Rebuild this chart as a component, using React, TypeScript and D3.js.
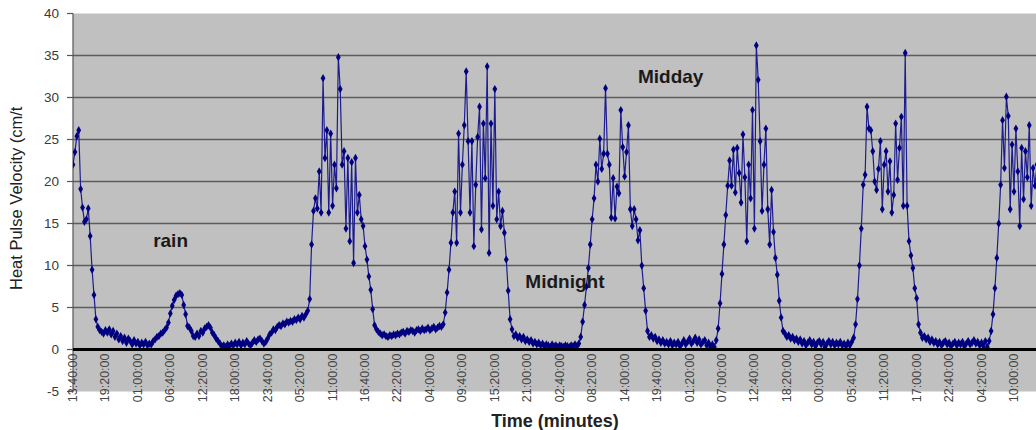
import React from "react";
import * as d3 from "d3";

// readings every 20 minutes, starting 13:40
const startPeak = [22.0, 23.5, 25.4, 26.1, 19.1, 16.9, 15.2, 15.5, 16.8, 13.5, 9.5, 6.5, 3.6, 2.7, 2.3, 2.1, 1.9];
const night1 = [2.3, 2.0, 2.4, 1.8, 2.2, 1.5, 1.9, 1.2, 1.6, 1.0, 1.4, 0.8, 1.3, 1.0, 0.6, 1.1, 0.7, 0.9, 0.5, 0.8, 0.6, 0.9, 0.5, 0.7, 0.6, 1.0, 1.2, 1.5, 1.6, 1.9, 2.0, 2.3, 2.6];
const rainEvent = [3.2, 4.3, 5.2, 5.9, 6.4, 6.6, 6.7, 6.5, 5.3, 4.2, 2.8, 2.6, 2.2, 1.6, 1.5, 1.9, 1.6, 2.2, 2.0, 2.5, 2.7, 2.9, 2.6, 2.0, 1.7, 1.3];
const dryNight = [1.0, 0.7, 0.4, 0.5, 0.3, 0.6, 0.4, 0.7, 0.5, 0.8, 0.6, 0.9, 0.5, 0.8, 0.6, 1.0, 0.7, 0.5, 0.8, 1.1, 0.9, 1.2, 1.3, 1.0, 0.7, 0.9, 1.3, 1.8, 2.0, 2.4, 2.3, 2.7, 2.9, 2.8, 3.1, 3.0, 3.3, 3.2, 3.4, 3.3, 3.6, 3.5, 3.8, 3.6, 4.0, 3.8, 4.2, 4.6, 6.0];
const day3 = [12.5, 16.5, 18.0, 16.8, 21.2, 16.3, 32.3, 22.8, 26.1, 16.3, 25.7, 17.1, 22.0, 19.2, 34.8, 31.0, 22.0, 23.6, 14.4, 22.8, 12.9, 22.3, 10.3, 22.8, 16.3, 18.4, 15.5, 14.7, 12.3, 10.7, 8.7, 7.1, 4.8, 2.9, 2.4, 2.1];
const night3 = [1.9, 1.7, 1.8, 1.6, 1.5, 1.7, 1.6, 1.8, 1.7, 1.9, 1.8, 2.0, 2.1, 1.9, 2.2, 2.1, 2.3, 2.2, 2.0, 2.3, 2.4, 2.2, 2.5, 2.3, 2.4, 2.6, 2.3, 2.5, 2.7, 2.4, 2.6, 2.8, 2.7, 3.0, 4.4, 6.8, 9.5, 12.7, 16.3];
const day4 = [18.8, 12.7, 25.7, 16.3, 22.0, 26.7, 33.1, 24.8, 16.3, 24.8, 12.3, 19.6, 25.3, 28.9, 14.3, 26.9, 20.4, 33.7, 11.5, 26.9, 17.1, 31.0, 15.5, 18.8, 14.7, 16.5, 13.9, 10.7, 7.0, 3.6, 2.4, 1.6];
const night4 = [1.8, 1.4, 1.6, 1.2, 1.5, 1.0, 1.2, 0.9, 1.1, 0.7, 0.9, 0.6, 0.8, 0.5, 0.7, 0.4, 0.6, 0.5, 0.3, 0.6, 0.4, 0.5, 0.3, 0.5, 0.4, 0.3, 0.5, 0.4, 0.3, 0.5, 0.4, 0.6, 0.4, 0.7, 1.5, 3.3, 5.3, 7.5, 9.7, 12.5, 15.5, 18.0];
const day5 = [22.0, 20.0, 25.1, 21.5, 23.3, 31.1, 23.3, 22.0, 15.7, 20.4, 15.6, 19.4, 18.6, 28.5, 24.1, 20.6, 23.5, 26.7, 16.7, 14.7, 16.7, 15.5, 13.0, 14.2, 10.0, 7.3, 4.6, 2.2, 1.5];
const night5 = [1.7, 1.3, 1.5, 1.0, 1.2, 0.8, 1.1, 0.7, 0.9, 0.6, 1.0, 0.5, 0.8, 0.6, 0.9, 0.4, 0.7, 1.1, 0.6, 0.9, 1.3, 0.7, 1.0, 1.4, 0.8, 1.2, 0.6, 0.9, 1.1, 0.5, 0.8, 0.3, 0.6, 0.3, 1.1, 2.5, 5.5, 9.0, 12.5, 16.0, 19.5];
const day6 = [22.5, 19.5, 23.8, 18.7, 24.0, 21.0, 17.5, 25.6, 20.5, 12.9, 22.0, 18.0, 28.5, 14.4, 36.2, 32.1, 24.8, 16.5, 22.0, 26.3, 16.7, 12.5, 19.0, 14.0, 10.9, 8.9, 5.8, 3.8, 2.2, 1.9, 1.5];
const night6 = [1.7, 1.3, 1.5, 1.1, 1.3, 0.9, 1.2, 0.7, 1.0, 0.5, 0.8, 1.1, 0.6, 0.9, 0.4, 0.8, 1.0, 0.6, 0.9, 0.3, 0.7, 1.0, 0.6, 0.9, 0.5, 0.8, 0.6, 0.9, 0.5, 0.7, 0.4, 0.8, 0.5, 0.9, 1.4, 3.0, 6.0, 10.0, 14.4];
const day7 = [19.6, 20.8, 28.9, 26.3, 26.1, 23.6, 20.0, 19.0, 21.5, 24.8, 16.7, 22.0, 23.6, 18.8, 22.4, 16.3, 18.4, 26.9, 20.2, 24.0, 27.7, 17.1, 35.3, 17.1, 12.9, 11.2, 9.7, 7.3, 6.1, 3.0, 2.0, 1.4];
const night7 = [1.6, 1.2, 1.4, 0.9, 1.2, 0.8, 1.0, 0.6, 0.9, 0.5, 0.8, 1.0, 0.6, 0.8, 0.4, 0.7, 0.9, 0.5, 0.8, 0.6, 0.9, 0.4, 0.7, 1.0, 0.6, 0.8, 1.1, 0.7, 0.9, 0.5, 0.8, 0.4, 1.0, 0.3, 1.0, 2.2, 4.2, 7.3, 10.9, 15.0];
const day8 = [19.6, 27.3, 21.6, 30.1, 27.8, 16.7, 24.4, 18.8, 26.3, 21.2, 14.7, 24.0, 17.9, 23.6, 20.5, 26.7, 17.1, 21.6, 19.5, 22.0];

const timeLabels = [
  "13:40:00", "19:20:00", "01:00:00", "06:40:00", "12:20:00", "18:00:00",
  "23:40:00", "05:20:00", "11:00:00", "16:40:00", "22:20:00", "04:00:00",
  "09:40:00", "15:20:00", "21:00:00", "02:40:00", "08:20:00", "14:00:00",
  "19:40:00", "01:20:00", "07:00:00", "12:40:00", "18:20:00", "00:00:00",
  "05:40:00", "11:20:00", "17:00:00", "22:40:00", "04:20:00", "10:00:00",
];
const yTicks = [40, 35, 30, 25, 20, 15, 10, 5, 0, -5];
const gridValues = [35, 30, 25, 20, 15, 10, 5];
const notes = [
  { text: "rain", idx: 42, v: 12.2 },
  { text: "Midnight", idx: 237, v: 7.3 },
  { text: "Midday", idx: 296, v: 31.7 },
];

const velocity = [
  ...startPeak, ...night1, ...rainEvent, ...dryNight, ...day3, ...night3, ...day4,
  ...night4, ...day5, ...night5, ...day6, ...night6, ...day7, ...night7, ...day8,
];
const labelStep = 17; // one category label every 17 readings

const W = 1036;
const H = 430;
const font = "'Liberation Sans', Arial, sans-serif";

export default function App() {
  const x = d3.scaleLinear().domain([0, labelStep * (timeLabels.length - 1)]).range([73, 1014]);
  const y = d3.scaleLinear().domain([-5, 40]).range([391.5, 13.5]);
  const left = 73;

  const line = d3
    .line<number>()
    .x((_, i) => x(i))
    .y((d) => y(d));
  const diamond = d3.symbol().type(d3.symbolDiamond).size(20)();

  return (
    <svg
      width={W}
      height={H}
      style={{ position: "absolute", left: 0, top: 0, background: "#fff" }}
      fontFamily={font}
    >
      <defs>
        <clipPath id="plot">
          <rect x={left} y={y(40)} width={W - left} height={y(-5) - y(40)} />
        </clipPath>
      </defs>
      <rect x={left} y={y(40)} width={W - left} height={y(-5) - y(40)} fill="#c0c0c0" />
      {gridValues.map((g) => (
        <line key={g} x1={left} x2={W} y1={y(g)} y2={y(g)} stroke="#5c5c5c" strokeWidth={1.6} />
      ))}

      {/* y axis */}
      <line x1={left} x2={left} y1={y(40)} y2={y(-5)} stroke="#555" strokeWidth={1.2} />
      {yTicks.map((t) => (
        <g key={t}>
          <line x1={left - 6} x2={left} y1={y(t)} y2={y(t)} stroke="#555" strokeWidth={1.2} />
          <text x={left - 14} y={y(t)} textAnchor="end" dominantBaseline="central" fontSize={13.5} fill="#3a3a3a">
            {t}
          </text>
        </g>
      ))}
      <text
        transform={`translate(22, 290) rotate(-90)`}
        fontSize={16.5}
        fill="#222"
      >
        Heat Pulse Velocity (cm/t
      </text>

      {/* series */}
      <g clipPath="url(#plot)">
        <path d={line(velocity) ?? ""} fill="none" stroke="#1c1c8e" strokeWidth={1.2} />
        {velocity.map((v, i) => (
          <path key={i} d={diamond ?? ""} transform={`translate(${x(i)},${y(v)})`} fill="#000080" />
        ))}
      </g>

      {/* zero line */}
      <line x1={left} x2={W} y1={y(0)} y2={y(0)} stroke="#000" strokeWidth={3} />

      {/* category labels */}
      {timeLabels.map((lab, k) => (
        <text
          key={lab + k}
          transform={`translate(${x(k * labelStep)}, ${y(0) + 4}) rotate(-90)`}
          textAnchor="end"
          dominantBaseline="central"
          fontSize={12.5}
          fill="#444"
        >
          {lab}
        </text>
      ))}

      <text x={555} y={427} textAnchor="middle" fontSize={18} fontWeight="bold" fill="#222">
        Time (minutes)
      </text>

      {notes.map((n) => (
        <text
          key={n.text}
          x={x(n.idx)}
          y={y(n.v)}
          fontSize={19}
          fontWeight="bold"
          fill="#1a1a1a"
        >
          {n.text}
        </text>
      ))}
    </svg>
  );
}
